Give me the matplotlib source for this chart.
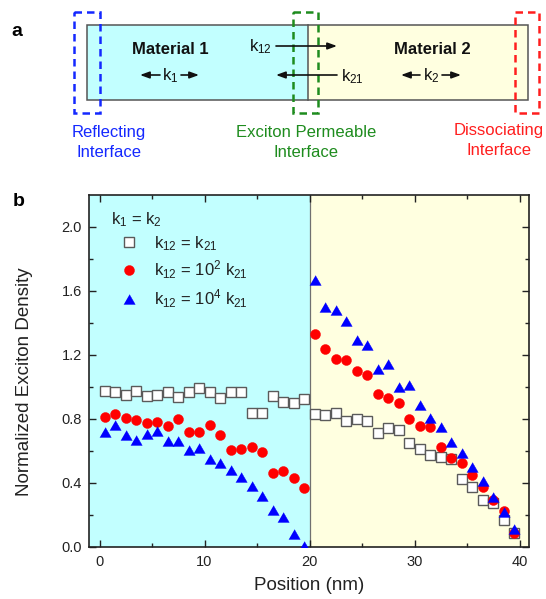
import matplotlib
matplotlib.use("Agg")
import matplotlib.pyplot as plt
from matplotlib.patches import Rectangle

plt.rcParams['font.family'] = ['Liberation Sans', 'DejaVu Sans']
plt.rcParams['mathtext.fontset'] = 'custom'
plt.rcParams['mathtext.rm'] = 'Liberation Sans'
plt.rcParams['mathtext.it'] = 'Liberation Sans:italic'
plt.rcParams['mathtext.bf'] = 'Liberation Sans:bold'

# ---------------- data ----------------
position_nm = [0.5, 1.5, 2.5, 3.5, 4.5, 5.5, 6.5, 7.5, 8.5, 9.5,
               10.5, 11.5, 12.5, 13.5, 14.5, 15.5, 16.5, 17.5, 18.5, 19.5,
               20.5, 21.5, 22.5, 23.5, 24.5, 25.5, 26.5, 27.5, 28.5, 29.5,
               30.5, 31.5, 32.5, 33.5, 34.5, 35.5, 36.5, 37.5, 38.5, 39.5]

density_equal = [0.973, 0.969, 0.952, 0.975, 0.942, 0.952, 0.969, 0.939, 0.967, 0.996,
                 0.969, 0.931, 0.971, 0.969, 0.835, 0.837, 0.946, 0.906, 0.902, 0.927,
                 0.831, 0.825, 0.835, 0.789, 0.800, 0.787, 0.710, 0.745, 0.731, 0.653,
                 0.610, 0.578, 0.564, 0.547, 0.424, 0.376, 0.294, 0.278, 0.171, 0.090]

density_1e2 = [0.814, 0.829, 0.808, 0.793, 0.772, 0.779, 0.756, 0.802, 0.716, 0.718,
               0.760, 0.697, 0.608, 0.612, 0.626, 0.591, 0.463, 0.472, 0.432, 0.370,
               1.330, 1.240, 1.173, 1.167, 1.100, 1.077, 0.956, 0.931, 0.900, 0.802,
               0.756, 0.749, 0.622, 0.559, 0.524, 0.449, 0.372, 0.294, 0.225, 0.086]

density_1e4 = [0.718, 0.762, 0.701, 0.670, 0.704, 0.722, 0.664, 0.660, 0.605, 0.618,
               0.547, 0.522, 0.480, 0.438, 0.384, 0.319, 0.234, 0.186, 0.079, 0.006,
               1.666, 1.503, 1.482, 1.415, 1.296, 1.265, 1.111, 1.146, 1.002, 1.013,
               0.887, 0.808, 0.752, 0.656, 0.589, 0.497, 0.415, 0.313, 0.221, 0.115]

series_labels = ['k$_{12}$ = k$_{21}$',
                 'k$_{12}$ = 10$^{2}$ k$_{21}$',
                 'k$_{12}$ = 10$^{4}$ k$_{21}$']
legend_title = 'k$_{1}$ = k$_{2}$'
x_ticks = [0, 10, 20, 30, 40]
y_ticks = [0.0, 0.4, 0.8, 1.2, 1.6, 2.0]
interface_pos = 20
x_label = 'Position (nm)'
y_label = 'Normalized Exciton Density'

CYAN = '#C2FFFF'
YELLOW = '#FFFFE0'
BLUE_T = '#1428FF'
GREEN_T = '#1E8C1E'
RED_T = '#FF1E1E'

W, H = 546, 599
fig = plt.figure(figsize=(W / 100, H / 100), dpi=100)

# ---------------- panel b ----------------
ax = fig.add_axes([89 / W, 1 - 547 / H, 440 / W, 352 / H])
xmin, xmax = -1.0, 40.9
ax.set_xlim(xmin, xmax)
ax.set_ylim(0, 2.2)
ax.axvspan(xmin, interface_pos, color=CYAN, lw=0, zorder=0)
ax.axvspan(interface_pos, xmax, color=YELLOW, lw=0, zorder=0)
ax.axvline(interface_pos, color='#707070', lw=0.9, zorder=1)

tri = [(-1, -0.866), (1, -0.866), (0, 0.866)]
ax.plot(position_nm, density_equal, ls='none', marker='s', ms=6.8,
        mfc='white', mec='#5a5a5a', mew=1.0, label=series_labels[0], zorder=3)
ax.plot(position_nm, density_1e2, ls='none', marker='o', ms=7.2,
        mfc='#FF0000', mec='#FF0000', mew=0.3, label=series_labels[1], zorder=4)
ax.plot(position_nm, density_1e4, ls='none', marker=tri, ms=8.2,
        mfc='#0000FF', mec='#0000FF', mew=0.3, label=series_labels[2], zorder=5)

ax.set_xticks(x_ticks)
ax.set_xticks([5, 15, 25, 35], minor=True)
ax.set_yticks(y_ticks)
ax.set_yticks([0.2, 0.6, 1.0, 1.4, 1.8], minor=True)
ax.set_yticklabels([f'{v:.1f}' for v in y_ticks])
ax.tick_params(which='both', direction='in', top=True, right=True,
               colors='#222222', labelcolor='#222222', width=1.0)
ax.tick_params(which='major', length=5, labelsize=10.5)
ax.tick_params(which='minor', length=3)
ax.tick_params(axis='x', pad=6)
ax.tick_params(axis='y', pad=5)
for sp in ax.spines.values():
    sp.set_color('#222222')
    sp.set_linewidth(1.2)

ax.set_xlabel(x_label, fontsize=13.5, color='#222222')
ax.set_ylabel(y_label, fontsize=13.5, color='#222222')
ax.xaxis.set_label_coords(0.5, -0.085)
ax.yaxis.set_label_coords(-0.128, 0.47)

ax.text((111 - 89) / 440, (547 - 220) / 352, legend_title, fontsize=12,
        transform=ax.transAxes, ha='left', va='center', color='#222222')
leg = ax.legend(loc='upper left', bbox_to_anchor=((121 - 89) / 440, (547 - 234) / 352),
                frameon=False, fontsize=12, handlelength=1.0, handletextpad=0.95,
                borderpad=0, borderaxespad=0, labelspacing=0.36)
for t in leg.get_texts():
    t.set_color('#222222')

# ---------------- panel a (schematic) ----------------
axd = fig.add_axes([0, 1 - 175 / H, 1, 175 / H])
axd.set_xlim(0, W)
axd.set_ylim(175, 0)
axd.axis('off')

left, mid, right, top, bot = 87, 308, 528, 25, 100
axd.add_patch(Rectangle((left, top), mid - left, bot - top, facecolor=CYAN, edgecolor='none'))
axd.add_patch(Rectangle((mid, top), right - mid, bot - top, facecolor=YELLOW, edgecolor='none'))
axd.add_patch(Rectangle((left, top), right - left, bot - top, facecolor='none',
                        edgecolor='#555555', lw=1.1))
axd.plot([mid, mid], [top, bot], color='#555555', lw=1.1)

dash = (0, (3.0, 2.0))
for (x0, x1, c) in [(73.5, 100, BLUE_T), (293, 318, GREEN_T), (515, 538.5, RED_T)]:
    axd.add_patch(Rectangle((x0, 12), x1 - x0, 101, facecolor='none', edgecolor=c,
                            lw=1.8, linestyle=dash))

axd.text(170, 50, 'Material 1', fontsize=12, fontweight='bold', ha='center', va='center', color='#111111')
axd.text(432, 50, 'Material 2', fontsize=12, fontweight='bold', ha='center', va='center', color='#111111')

def arrow(x0, x1, y):
    axd.annotate('', xy=(x1, y), xytext=(x0, y),
                 arrowprops=dict(arrowstyle='-|>,head_length=0.55,head_width=0.2',
                                 color='#111111', lw=1.2, shrinkA=0, shrinkB=0))

axd.text(170, 80, 'k$_{1}$', fontsize=12, ha='center', va='baseline', color='#111111')
arrow(160, 140, 75)
arrow(181, 199, 75)
axd.text(431, 80, 'k$_{2}$', fontsize=12, ha='center', va='baseline', color='#111111')
arrow(420, 401, 75)
arrow(442, 461, 75)

axd.text(272, 51, 'k$_{12}$', fontsize=12, ha='right', va='baseline', color='#111111')
arrow(276, 337, 46)
axd.text(341, 81, 'k$_{21}$', fontsize=12, ha='left', va='baseline', color='#111111')
arrow(337, 276, 75)

axd.text(109, 133, 'Reflecting', fontsize=12, color=BLUE_T, ha='center', va='center')
axd.text(109, 153, 'Interface', fontsize=12, color=BLUE_T, ha='center', va='center')
axd.text(306, 133, 'Exciton Permeable', fontsize=12, color=GREEN_T, ha='center', va='center')
axd.text(306, 153, 'Interface', fontsize=12, color=GREEN_T, ha='center', va='center')
axd.text(499, 131, 'Dissociating', fontsize=12, color=RED_T, ha='center', va='center')
axd.text(499, 151, 'Interface', fontsize=12, color=RED_T, ha='center', va='center')

fig.text(17 / W, 1 - 32 / H, 'a', fontsize=14, fontweight='bold', ha='center', va='center')
fig.text(19 / W, 1 - 201 / H, 'b', fontsize=14, fontweight='bold', ha='center', va='center')

fig.savefig('out.png', dpi=100)
